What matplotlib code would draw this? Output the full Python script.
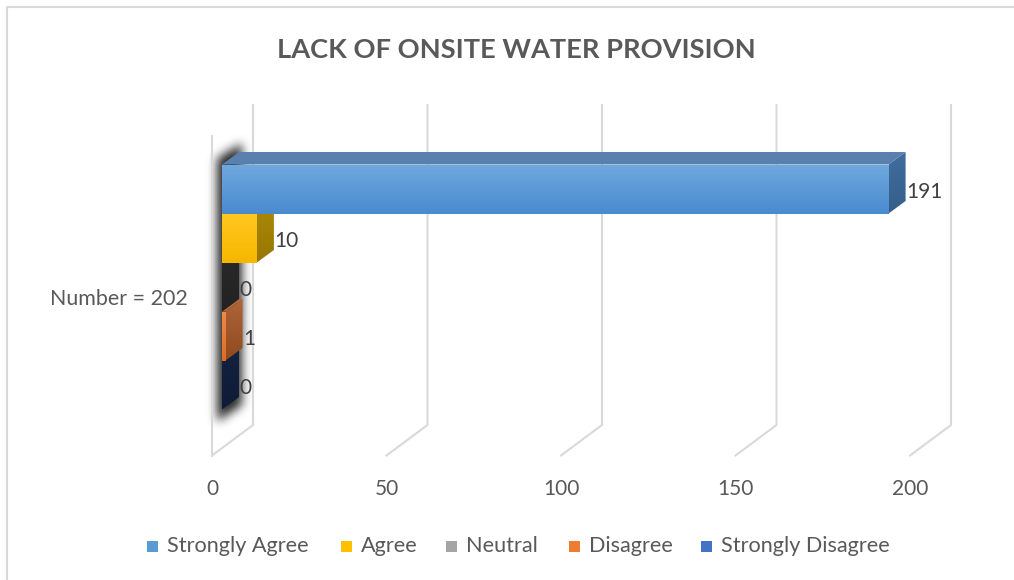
import numpy as np
import matplotlib
matplotlib.use("Agg")
import matplotlib.pyplot as plt
from matplotlib.patches import Polygon, Rectangle
from matplotlib.lines import Line2D
from matplotlib.transforms import IdentityTransform, offset_copy
from matplotlib.colors import LinearSegmentedColormap
from matplotlib.path import Path

plt.rcParams['font.family'] = ['Lato', 'DejaVu Sans']

# ---- data ----
title = "LACK OF ONSITE WATER PROVISION"
category = "Number = 202"
series = ["Strongly Agree", "Agree", "Neutral", "Disagree", "Strongly Disagree"]
values = [191, 10, 0, 1, 0]
x_ticks = [0, 50, 100, 150, 200]

# ---- styles ----
legend_colors = ["#5B9BD5", "#FFC000", "#A5A5A5", "#ED7D31", "#4472C4"]
front_top = ["#6EA8DE", "#FFC81F", "#3A3A3A", "#F08A45", "#1C2D52"]
front_bot = ["#4A8BCE", "#F5B700", "#262626", "#E06B20", "#111E3C"]
top_face = ["#5A80AE", "#B8940F", "#303030", "#B5683A", "#17284A"]
side_top = ["#3F6E9E", "#AB8A08", "#2A2A2A", "#B0643A", "#14223F"]
side_bot = ["#355E8A", "#987600", "#222222", "#8E4A1E", "#0F1B36"]
text_color = "#595959"
grid_color = "#D9D9D9"

W, H = 1014, 580
fig = plt.figure(figsize=(W / 100, H / 100), dpi=100)
fig.patch.set_facecolor("white")


def fx(px):
    return px / W


def fy(py):
    return 1 - py / H


# axes = plane of the bars' front faces
PL, PR, PT, PB = 222, 920, 128, 448
ROW0, ROWH = 189, 49
ax = fig.add_axes([fx(PL), fy(PB), fx(PR) - fx(PL), fy(PT) - fy(PB)])
XLIM = (x_ticks[0], x_ticks[-1])
YLIM = ((PB - ROW0) / ROWH, (PT - ROW0) / ROWH)
ax.set_xlim(*XLIM)
ax.set_ylim(*YLIM)
ax.axis('off')

# depth offsets in pixels (display coords, y up)
BAR_D = (17, 12.5)
FRONT = (-10, -7.5)
BACK = (31, 23)
ID = IdentityTransform()


def disp(x, y, off=(0, 0)):
    px, py = ax.transData.transform((x, y))
    return px + off[0], py + off[1]


def line(pts, **kw):
    xs = [p[0] for p in pts]
    ys = [p[1] for p in pts]
    ln = Line2D(xs, ys, transform=ID, clip_on=False, **kw)
    ax.add_line(ln)


def poly(pts, **kw):
    p = Polygon(pts, closed=True, transform=ID, clip_on=False, **kw)
    ax.add_patch(p)
    return p


y_floor, y_top = YLIM

# walls and gridlines
for t in x_ticks:
    bt = disp(t, y_top, BACK)
    bb = disp(t, y_floor, BACK)
    fb = disp(t, y_floor, FRONT)
    line([bt, bb, fb], color=grid_color, lw=1.5, zorder=1)
# left wall front edge
line([disp(0, y_top, FRONT), disp(0, y_floor, FRONT)], color=grid_color, lw=1.5, zorder=1)

# soft shadow along the left end of the bar stack
n = len(values)
s_top, s_bot = -0.5, n - 0.5
sil = [disp(0, s_top, (-5, 6)), disp(0, s_top, (BAR_D[0] + 3, BAR_D[1] + 9)),
       disp(0, s_bot, (BAR_D[0] + 3, BAR_D[1] - 8)), disp(0, s_bot, (-5, -12))]
path = Path(sil)
yy, xx = np.mgrid[0:H, 0:W]
pts = np.column_stack([xx.ravel() + 0.5, (H - yy.ravel()) - 0.5])
mask = path.contains_points(pts).reshape(H, W).astype(float)
sig = 5.0
k = np.arange(-15, 16)
kern = np.exp(-k ** 2 / (2 * sig ** 2))
kern /= kern.sum()
mask = np.apply_along_axis(lambda r: np.convolve(r, kern, mode='same'), 1, mask)
mask = np.apply_along_axis(lambda c: np.convolve(c, kern, mode='same'), 0, mask)
shadow = np.zeros((H, W, 4))
shadow[..., 3] = np.clip(mask * 0.85, 0, 1)
fig.figimage(shadow, xo=0, yo=0, origin='upper', zorder=-1)

# bars, drawn bottom row first so upper bars hide hidden faces
for i in reversed(range(n)):
    v = values[i]
    yt, yb = i - 0.5, i + 0.5
    z = 5 + (n - i) * 3
    # top face
    poly([disp(0, yt), disp(v, yt), disp(v, yt, BAR_D), disp(0, yt, BAR_D)],
         facecolor=top_face[i], edgecolor='none', zorder=z)
    # end face with vertical shading
    sp = poly([disp(v, yt), disp(v, yb), disp(v, yb, BAR_D), disp(v, yt, BAR_D)],
              facecolor='none', edgecolor='none', zorder=z)
    cm_side = LinearSegmentedColormap.from_list("s%d" % i, [side_top[i], side_bot[i]])
    sx0, sy0 = disp(v, yb)
    sx1, sy1 = disp(v, yt, BAR_D)
    im = ax.imshow(np.linspace(0, 1, 64).reshape(-1, 1), cmap=cm_side, aspect='auto',
                   extent=(sx0, sx1 + 1, sy0 - 1, sy1 + 1), origin='upper',
                   transform=ID, zorder=z + 0.5, interpolation='bilinear')
    im.set_clip_path(sp)
    # front face with vertical gradient
    if v > 0:
        fr = Rectangle((0, yt), v, 1, facecolor='none', edgecolor='none', zorder=z + 1)
        ax.add_patch(fr)
        cm_front = LinearSegmentedColormap.from_list("f%d" % i, [front_top[i], front_bot[i]])
        imf = ax.imshow(np.linspace(0, 1, 64).reshape(-1, 1), cmap=cm_front, aspect='auto',
                        extent=(0, v, yb, yt), origin='upper', zorder=z + 1,
                        interpolation='bilinear')
        imf.set_clip_path(fr)
    # value label
    lt = offset_copy(ax.transData, fig=fig, x=BAR_D[0] + 0.5, y=-3, units='dots')
    ax.text(v, i, str(v), transform=lt, ha='left', va='center', fontsize=15,
            color="#404040", zorder=40)

ax.set_xlim(*XLIM)
ax.set_ylim(*YLIM)

# x tick labels on the front floor edge
for t in x_ticks:
    tx, _ = disp(t, y_floor, FRONT)
    fig.text(tx / W, fy(489), str(t), ha='center', va='center', fontsize=15,
             color=text_color)

# category label
_, cy = disp(0, (n - 1) / 2, FRONT)
fig.text(fx(188), (cy - 4) / H, category, ha='right', va='center', fontsize=15.4,
         color=text_color)

# title
fig.text(fx(516), fy(50), title, ha='center', va='center', fontsize=19.6,
         fontweight='bold', color=text_color)

# legend
leg_x = [147, 341, 446, 569, 701]
for lx, name, col in zip(leg_x, series, legend_colors):
    fig.patches.append(Rectangle((fx(lx), fy(552)), 11 / W, 11 / H, transform=fig.transFigure,
                                 facecolor=col, edgecolor='none'))
    fig.text(fx(lx + 20), fy(546), name, ha='left', va='center', fontsize=15.6,
             color=text_color)

# chart area border
fig.add_artist(Line2D([fx(7), fx(7), fx(W + 5)], [fy(H + 5), fy(7), fy(7)],
                      transform=fig.transFigure, color=grid_color, lw=1.5))

fig.savefig("out.png", dpi=100, facecolor="white")
